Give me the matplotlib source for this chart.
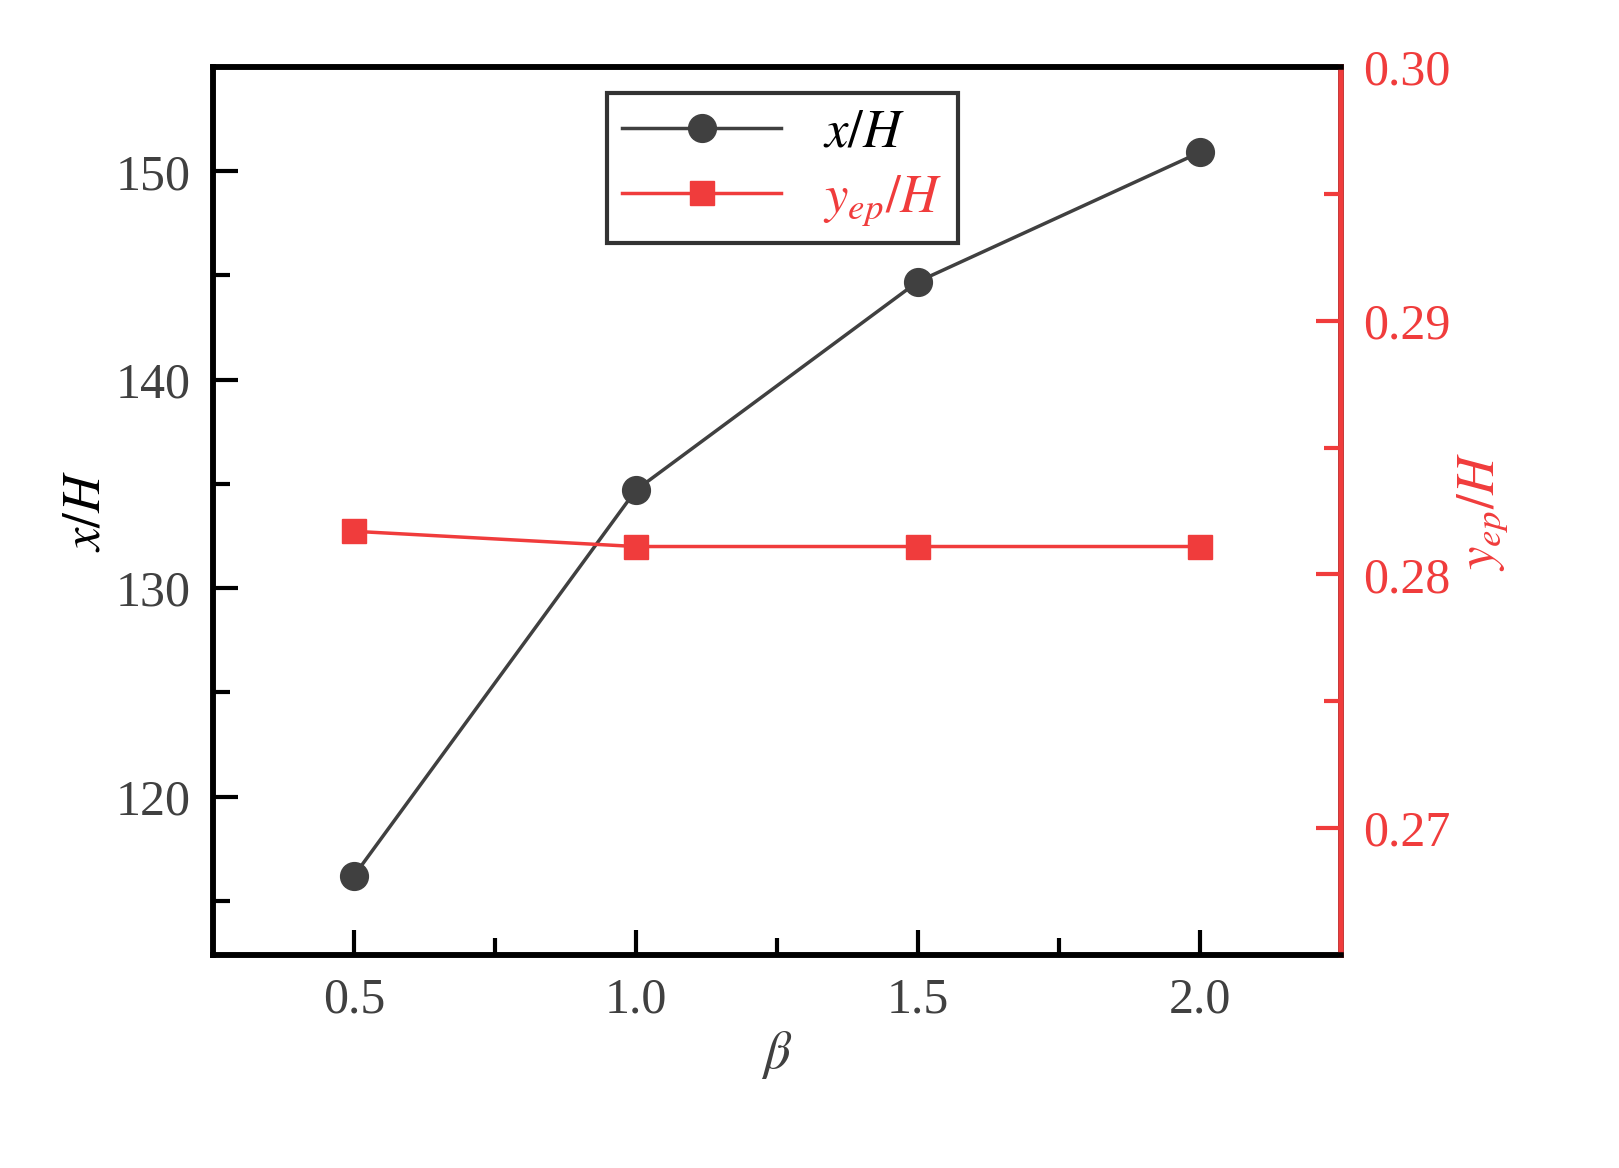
import matplotlib
matplotlib.use("Agg")
import matplotlib.pyplot as plt

beta = [0.5, 1.0, 1.5, 2.0]
xH = [116.2, 134.7, 144.7, 150.9]
yepH = [0.2817, 0.2811, 0.2811, 0.2811]

plt.rcParams['font.family'] = ['Liberation Serif', 'DejaVu Serif']
plt.rcParams['mathtext.fontset'] = 'stix'
fig = plt.figure(figsize=(16.19, 11.68), dpi=100)
ax = fig.add_axes([0.1316, 0.1824, 0.6964, 0.7602])
ax2 = ax.twinx()
red = '#f03c3c'
gray = '#404040'
l1, = ax.plot(beta, xH, '-o', color=gray, ms=20, lw=2.5, label='$x/H$')
l2, = ax2.plot(beta, yepH, '-s', color=red, ms=17, lw=2.5, label='$y_{ep}/H$')
ax.set_xlim(0.25, 2.25)
ax.set_ylim(112.4, 155)
ax2.set_ylim(0.265, 0.30)
ax.set_xticks([0.5, 1.0, 1.5, 2.0])
ax.set_xticks([0.75, 1.25, 1.75], minor=True)
ax.set_yticks([120, 130, 140, 150])
ax.set_yticks([115, 125, 135, 145], minor=True)
ax2.set_yticks([0.27, 0.28, 0.29, 0.30])
ax2.set_yticks([0.265, 0.275, 0.285, 0.295], minor=True)
ax2.set_yticklabels(['0.27', '0.28', '0.29', '0.30'])
for a in (ax, ax2):
    for s in a.spines.values():
        s.set_linewidth(4)
ax2.spines['right'].set_color(red)
ax.tick_params(axis='both', which='both', direction='in', width=3, labelsize=36, labelcolor=gray, pad=16)
ax.tick_params(which='major', length=18)
ax.tick_params(which='minor', length=12)
ax.tick_params(axis='x', which='both', top=False)
ax2.tick_params(axis='y', which='both', direction='in', width=3, colors=red, labelsize=36, pad=16)
ax2.tick_params(which='major', length=18)
ax2.tick_params(which='minor', length=12)
ax.set_xlabel(r'$\beta$', fontsize=38, color=gray)
ax.set_ylabel('$x/H$', fontsize=38)
ax2.set_ylabel('$y_{ep}/H$', fontsize=38, color=red)
leg = ax.legend(handles=[l1, l2], loc='upper center', bbox_to_anchor=(0.505, 1.0), fontsize=38,
                frameon=True, fancybox=False, edgecolor='black', handlelength=3,
                borderpad=0.3, labelspacing=0.3)
leg.get_frame().set_linewidth(3)
leg.get_texts()[1].set_color(red)
fig.savefig('out.png', dpi=100)
